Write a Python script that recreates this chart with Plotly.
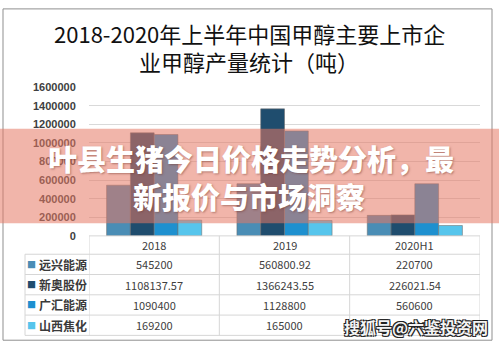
import plotly.graph_objects as go

W, H = 499, 352

categories = ["2018", "2019", "2020H1"]
series_names = ["远兴能源", "新奥股份", "广汇能源", "山西焦化"]
yuanxing = [545200, 560800.92, 220700]
xinao = [1108137.57, 1366243.55, 226021.54]
guanghui = [1090400, 1128800, 560600]
shanxi = [169200, 165000, 111500]
series_values = [yuanxing, xinao, guanghui, shanxi]
colors = ["#4a8db5", "#1f4d6e", "#1e90cf", "#56c5ec"]

title_lines = ["2018-2020年上半年中国甲醇主要上市企", "业甲醇产量统计（吨）"]
banner_lines = ["叶县生猪今日价格走势分析，最", "新报价与市场洞察"]
watermark = "搜狐号@六鉴投资网"

FONT = "Noto Sans CJK SC"
LINE = "#d6d6d6"

def px(x):
    return x / W

def py(y):
    return 1 - y / H

def fmt(v):
    return str(int(v)) if float(v).is_integer() else str(v)

fig = go.Figure()
for name, vals, col in zip(series_names, series_values, colors):
    fig.add_trace(go.Bar(
        x=categories, y=vals, name=name,
        marker=dict(color=col, line=dict(color="rgba(110,110,110,0.55)", width=1)),
        showlegend=False,
    ))

# ---- data table under the chart (layout geometry) ----
PLOT_L, PLOT_R, PLOT_T, PLOT_B = 89, 480, 84, 238
TABLE_L, HEADER_H, ROW_H = 25, 19, 21
row_top = PLOT_B + HEADER_H
table_bottom = row_top + ROW_H * len(series_names)

annotations = []
shapes = []

# horizontal lines
shapes.append(dict(type="line", xref="paper", yref="paper", x0=px(PLOT_L), x1=px(PLOT_R),
                   y0=py(PLOT_B), y1=py(PLOT_B), line=dict(color=LINE, width=1)))
for i in range(len(series_names) + 1):
    yy = row_top + ROW_H * i
    shapes.append(dict(type="line", xref="paper", yref="paper", x0=px(TABLE_L), x1=px(PLOT_R),
                       y0=py(yy), y1=py(yy), line=dict(color=LINE, width=1)))
# vertical lines
shapes.append(dict(type="line", xref="paper", yref="paper", x0=px(TABLE_L), x1=px(TABLE_L),
                   y0=py(row_top), y1=py(table_bottom), line=dict(color=LINE, width=1)))
for k in range(len(categories) + 1):
    shapes.append(dict(type="line", xref="x", yref="paper", x0=k - 0.5, x1=k - 0.5,
                       y0=py(PLOT_B), y1=py(table_bottom), line=dict(color=LINE, width=1)))

# header
for k, c in enumerate(categories):
    annotations.append(dict(text=c, x=k, xref="x", y=py(PLOT_B + HEADER_H / 2), yref="paper",
                            xanchor="center", yanchor="middle", showarrow=False,
                            font=dict(family=FONT, size=11, color="#404040")))
# rows
for i, (name, vals, col) in enumerate(zip(series_names, series_values, colors)):
    yc = py(row_top + ROW_H * (i + 0.5))
    annotations.append(dict(text="■", x=px(32), y=yc, xref="paper", yref="paper",
                            xanchor="center", yanchor="middle", showarrow=False,
                            font=dict(family=FONT, size=9, color=col)))
    annotations.append(dict(text=f"<b>{name}</b>", x=px(36.5), y=yc, xref="paper", yref="paper",
                            xanchor="left", yanchor="middle", showarrow=False,
                            font=dict(family=FONT, size=12, color="#3a3a3a")))
    for k, v in enumerate(vals):
        annotations.append(dict(text=fmt(v), x=k, xref="x", y=yc, yref="paper",
                                xanchor="center", yanchor="middle", showarrow=False,
                                font=dict(family=FONT, size=11, color="#404040")))

# title
for t, yc in zip(title_lines, [28, 57]):
    annotations.append(dict(text=t, x=px(249), y=py(yc), xref="paper", yref="paper",
                            xanchor="center", yanchor="middle", showarrow=False,
                            font=dict(family=FONT, size=22, color="#111111")))
# overlay banner text
for t, xc, yc in zip(banner_lines, [251, 249], [157, 197]):
    annotations.append(dict(text=t, x=px(xc), y=py(yc), xref="paper", yref="paper",
                            xanchor="center", yanchor="middle", showarrow=False,
                            font=dict(family=FONT, size=29, color="white", weight=900,
                                      shadow="1px 1px 2px rgba(120,60,50,0.5)")))
annotations.append(dict(text=watermark, x=px(416), y=py(332), xref="paper", yref="paper",
                        xanchor="center", yanchor="middle", showarrow=False,
                        font=dict(family=FONT, size=16, color="#f4f4f4", weight=700,
                                  shadow="-1px -1px 0 #222, 1px 1px 0 #222, 1px -1px 0 #222, -1px 1px 0 #222")))

shapes.append(dict(type="rect", xref="paper", yref="paper", x0=px(3), x1=px(492), y0=py(346), y1=py(3),
                   line=dict(color="#8f8f8f", width=1), fillcolor="rgba(0,0,0,0)", layer="below"))
shapes.append(dict(type="rect", xref="paper", yref="paper", x0=0, x1=1, y0=py(225), y1=py(127),
                   line=dict(width=0), fillcolor="rgba(230,120,100,0.55)", layer="above"))

fig.update_layout(
    width=W, height=H,
    margin=dict(l=0, r=0, t=0, b=0),
    paper_bgcolor="white", plot_bgcolor="white",
    barmode="group", bargap=0.27, bargroupgap=0,
    xaxis=dict(domain=[px(PLOT_L), px(PLOT_R)], type="category", categoryorder="array",
               categoryarray=categories, range=[-0.5, len(categories) - 0.5],
               showticklabels=False, showgrid=False, zeroline=False, showline=False, ticks=""),
    yaxis=dict(domain=[py(PLOT_B), py(PLOT_T)], range=[0, 1600000], dtick=200000, tickformat="d",
               showgrid=True, gridcolor="#d9d9d9", zeroline=False, showline=False,
               ticks="outside", ticklen=10, tickcolor="rgba(0,0,0,0)",
               tickfont=dict(family="Liberation Sans", size=11, color="#404040", weight=700)),
    annotations=annotations,
    shapes=shapes,
)

fig.write_html("out.html")
